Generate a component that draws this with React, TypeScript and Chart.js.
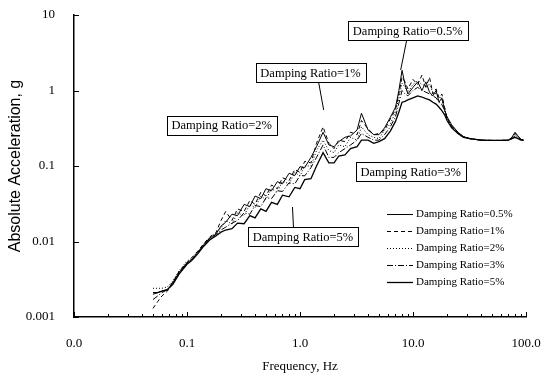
import React, { useEffect, useRef } from "react";
import { Chart, registerables } from "chart.js";

Chart.register(...registerables);

const frequencies = [
  0.05, 0.055, 0.06, 0.067, 0.075, 0.085, 0.1, 0.11, 0.125, 0.14, 0.16, 0.18,
  0.2, 0.22, 0.25, 0.28, 0.32, 0.36, 0.4, 0.45, 0.5, 0.56, 0.63, 0.7,
  0.8, 0.9, 1.0, 1.1, 1.25, 1.4, 1.6, 1.8, 2.0, 2.2, 2.5, 2.8,
  3.2, 3.5, 4.0, 4.5, 5.0, 5.6, 6.3, 7.0, 7.5, 8.0, 8.5, 9.0,
  10, 11, 12, 13, 14, 15, 16, 17, 18, 19, 20, 22,
  25, 28, 32, 40, 50, 60, 70, 75, 80, 85, 90, 95,
];

const ratio05 = [
  0.002, 0.0021, 0.0022, 0.0023, 0.0028, 0.0039, 0.0052, 0.0058, 0.0072, 0.009, 0.0112, 0.0125,
  0.016, 0.018, 0.023, 0.022, 0.031, 0.029, 0.04, 0.037, 0.05, 0.047, 0.062, 0.058,
  0.08, 0.075, 0.098, 0.095, 0.13, 0.18, 0.28, 0.19, 0.18, 0.21, 0.24, 0.25,
  0.3, 0.5, 0.3, 0.26, 0.26, 0.32, 0.44, 0.6, 1.0, 1.85, 1.2, 0.9,
  1.1, 1.3, 1.0, 1.3, 0.95, 0.85, 1.0, 0.7, 0.8, 0.55, 0.45, 0.35,
  0.28, 0.245, 0.23, 0.22, 0.218, 0.218, 0.22, 0.24, 0.28, 0.25, 0.225, 0.22,
];

const ratio1 = [
  0.0013, 0.0016, 0.0019, 0.0022, 0.0029, 0.004, 0.0053, 0.0061, 0.0075, 0.0093, 0.0116, 0.013,
  0.019, 0.025, 0.019, 0.027, 0.025, 0.035, 0.031, 0.045, 0.04, 0.056, 0.05, 0.07,
  0.064, 0.09, 0.082, 0.115, 0.11, 0.2, 0.33, 0.2, 0.17, 0.22, 0.21, 0.28,
  0.26, 0.4, 0.31, 0.26, 0.27, 0.3, 0.42, 0.56, 0.9, 1.5, 1.3, 1.05,
  1.4, 1.2, 1.6, 1.1, 1.5, 0.9, 1.05, 0.8, 0.9, 0.6, 0.43, 0.34,
  0.27, 0.24, 0.23, 0.22, 0.218, 0.218, 0.22, 0.235, 0.27, 0.25, 0.225, 0.22,
];

const ratio2 = [
  0.0024, 0.0024, 0.0024, 0.0025, 0.003, 0.0041, 0.0055, 0.006, 0.0074, 0.0092, 0.0114, 0.0128,
  0.015, 0.019, 0.017, 0.024, 0.022, 0.031, 0.028, 0.04, 0.036, 0.05, 0.045, 0.063,
  0.058, 0.082, 0.074, 0.1, 0.1, 0.16, 0.22, 0.16, 0.15, 0.19, 0.18, 0.24,
  0.22, 0.33, 0.26, 0.24, 0.23, 0.3, 0.36, 0.52, 0.8, 1.25, 1.1, 0.95,
  1.2, 1.35, 1.2, 1.15, 1.2, 0.95, 0.9, 0.85, 0.75, 0.6, 0.44, 0.34,
  0.28, 0.245, 0.23, 0.22, 0.218, 0.218, 0.22, 0.235, 0.26, 0.245, 0.225, 0.22,
];

const ratio3 = [
  0.0017, 0.0019, 0.0021, 0.0023, 0.0029, 0.0038, 0.0051, 0.0057, 0.0071, 0.0089, 0.011, 0.0123,
  0.0142, 0.0155, 0.0175, 0.019, 0.024, 0.023, 0.03, 0.029, 0.038, 0.037, 0.047, 0.046,
  0.06, 0.058, 0.075, 0.074, 0.095, 0.13, 0.19, 0.13, 0.13, 0.15, 0.17, 0.19,
  0.22, 0.27, 0.24, 0.22, 0.22, 0.26, 0.33, 0.45, 0.68, 1.0, 0.9, 0.85,
  1.0, 1.1, 1.0, 0.95, 0.9, 0.85, 0.8, 0.7, 0.65, 0.55, 0.42, 0.33,
  0.27, 0.24, 0.23, 0.22, 0.218, 0.218, 0.22, 0.23, 0.25, 0.24, 0.225, 0.22,
];

const ratio5 = [
  0.0021, 0.0021, 0.0022, 0.0023, 0.0027, 0.0037, 0.005, 0.0056, 0.0069, 0.0086, 0.0106, 0.0118,
  0.0133, 0.0142, 0.0148, 0.0175, 0.0172, 0.022, 0.0205, 0.027, 0.025, 0.033, 0.031, 0.041,
  0.039, 0.052, 0.05, 0.066, 0.068, 0.1, 0.15, 0.11, 0.11, 0.135, 0.14, 0.17,
  0.18, 0.22, 0.22, 0.2, 0.21, 0.23, 0.29, 0.39, 0.52, 0.7, 0.72, 0.75,
  0.8, 0.85, 0.82, 0.78, 0.75, 0.7, 0.66, 0.6, 0.54, 0.48, 0.4, 0.32,
  0.27, 0.24, 0.23, 0.22, 0.218, 0.218, 0.22, 0.23, 0.24, 0.23, 0.22, 0.22,
];

const seriesLabels = [
  "Damping Ratio=0.5%",
  "Damping Ratio=1%",
  "Damping Ratio=2%",
  "Damping Ratio=3%",
  "Damping Ratio=5%",
];

const xTickValues = [0.01, 0.1, 1, 10, 100];
const yTickValues = [0.001, 0.01, 0.1, 1, 10];

// Callout boxes (centre and leader in data coordinates)
const calloutTexts = seriesLabels;
const calloutCentres = [
  [8.98, 6.14],
  [1.24, 1.73],
  [0.203, 0.349],
  [9.55, 0.0833],
  [1.063, 0.01164],
];
const calloutLeaders = [
  [[8.8, 4.67], [7.78, 1.87]],
  [[1.46, 1.3], [1.62, 0.552]],
  null,
  null,
  [[0.876, 0.0151], [0.858, 0.0286]],
];

const seriesValues = [ratio05, ratio1, ratio2, ratio3, ratio5];
const seriesDashes = [[], [4, 3], [1, 2], [6, 2, 1, 2], []];
const seriesWidths = [1, 1, 1, 1, 1.3];

const decorPlugin = {
  id: "decor",
  afterDatasetsDraw(chart: any) {
    const { ctx, chartArea, scales } = chart;
    const xs = scales.x;
    const ys = scales.y;
    ctx.save();
    ctx.strokeStyle = "#000";
    ctx.lineWidth = 1;
    ctx.setLineDash([]);
    // x ticks (inward)
    for (const d of [0.01, 0.1, 1, 10]) {
      for (let m = 1; m <= 10; m++) {
        const v = d * m;
        const px = Math.round(xs.getPixelForValue(v)) + 0.5;
        const len = m === 1 || m === 10 ? 5 : 3;
        ctx.beginPath();
        ctx.moveTo(px, chartArea.bottom);
        ctx.lineTo(px, chartArea.bottom - len);
        ctx.stroke();
      }
    }
    // y ticks (inward)
    for (const v of yTickValues) {
      const py = Math.round(ys.getPixelForValue(v)) + 0.5;
      ctx.beginPath();
      ctx.moveTo(chartArea.left, py);
      ctx.lineTo(chartArea.left + 5, py);
      ctx.stroke();
    }
    // callouts
    ctx.font = "12.5px 'Liberation Serif'";
    calloutTexts.forEach((t, i) => {
      const cx = xs.getPixelForValue(calloutCentres[i][0]);
      const cy = ys.getPixelForValue(calloutCentres[i][1]);
      const leader = calloutLeaders[i];
      if (leader) {
        ctx.beginPath();
        ctx.moveTo(xs.getPixelForValue(leader[0][0]), ys.getPixelForValue(leader[0][1]));
        ctx.lineTo(xs.getPixelForValue(leader[1][0]), ys.getPixelForValue(leader[1][1]));
        ctx.stroke();
      }
      const w = Math.round(ctx.measureText(t).width + 10);
      const h = 19;
      const bx = Math.round(cx - w / 2) + 0.5;
      const by = Math.round(cy - h / 2) + 0.5;
      ctx.fillStyle = "#fff";
      ctx.fillRect(bx, by, w, h);
      ctx.strokeRect(bx, by, w, h);
      ctx.fillStyle = "#000";
      ctx.textAlign = "center";
      ctx.textBaseline = "middle";
      ctx.fillText(t, cx, cy + 1);
    });
    // legend
    const lx = chartArea.right - 139;
    const ly = chartArea.top + 199;
    ctx.font = "11px 'Liberation Serif'";
    ctx.textAlign = "left";
    ctx.textBaseline = "middle";
    chart.data.datasets.forEach((ds: any, i: number) => {
      const y = Math.round(ly + i * 17) + 0.5;
      ctx.lineWidth = ds.borderWidth;
      ctx.setLineDash(ds.borderDash || []);
      ctx.beginPath();
      ctx.moveTo(lx, y);
      ctx.lineTo(lx + 26, y);
      ctx.stroke();
      ctx.setLineDash([]);
      ctx.fillStyle = "#000";
      ctx.fillText(ds.label, lx + 29, y);
    });
    ctx.restore();
  },
};

export default function App() {
  const ref = useRef<HTMLCanvasElement | null>(null);
  useEffect(() => {
    if (!ref.current) return;
    const chart = new Chart(ref.current, {
      type: "line",
      data: {
        datasets: seriesLabels.map((label, i) => ({
          label,
          data: frequencies.map((f, j) => ({ x: f, y: seriesValues[i][j] })),
          borderColor: "#000",
          borderWidth: seriesWidths[i],
          borderDash: seriesDashes[i],
          pointRadius: 0,
          tension: 0,
          fill: false,
        })),
      },
      options: {
        responsive: false,
        animation: false,
        layout: { padding: { left: 0, right: 15, top: 15, bottom: 0 } },
        plugins: { legend: { display: false }, tooltip: { enabled: false } },
        scales: {
          x: {
            type: "logarithmic",
            min: 0.01,
            max: 100,
            grid: { display: false },
            border: { display: true, color: "#000", width: 1.5 },
            afterBuildTicks: (s: any) => {
              s.ticks = xTickValues.map((v) => ({ value: v }));
            },
            afterFit: (s: any) => {
              s.height = 62;
              s.paddingLeft = 0;
              s.paddingRight = 0;
            },
            ticks: {
              autoSkip: false,
              maxRotation: 0,
              padding: 11,
              color: "#000",
              font: { family: "'Liberation Serif'", size: 13 },
              callback: (v: any) => Number(v).toFixed(1),
            },
            title: {
              display: true,
              text: "Frequency, Hz",
              color: "#000",
              font: { family: "'Liberation Serif'", size: 13 },
              padding: { top: 0, bottom: 5 },
            },
          },
          y: {
            type: "logarithmic",
            min: 0.001,
            max: 10,
            grid: { display: false },
            border: { display: true, color: "#000", width: 1.5 },
            afterBuildTicks: (s: any) => {
              s.ticks = yTickValues.map((v) => ({ value: v }));
            },
            afterFit: (s: any) => {
              s.width = 74;
              s.paddingTop = 0;
              s.paddingBottom = 0;
            },
            ticks: {
              autoSkip: false,
              padding: 11,
              color: "#000",
              font: { family: "'Liberation Serif'", size: 13 },
              callback: (v: any) => String(Number(v)),
            },
            title: {
              display: true,
              text: "Absolute Acceleration, g",
              color: "#000",
              font: { family: "'Liberation Sans'", size: 16 },
              padding: { top: 6, bottom: 0 },
            },
          },
        },
      },
      plugins: [decorPlugin],
    });
    return () => chart.destroy();
  }, []);
  return (
    <div style={{ position: "absolute", left: 0, top: 0, width: 541, height: 379, background: "#fff" }}>
      <canvas ref={ref} width={541} height={379} />
    </div>
  );
}
